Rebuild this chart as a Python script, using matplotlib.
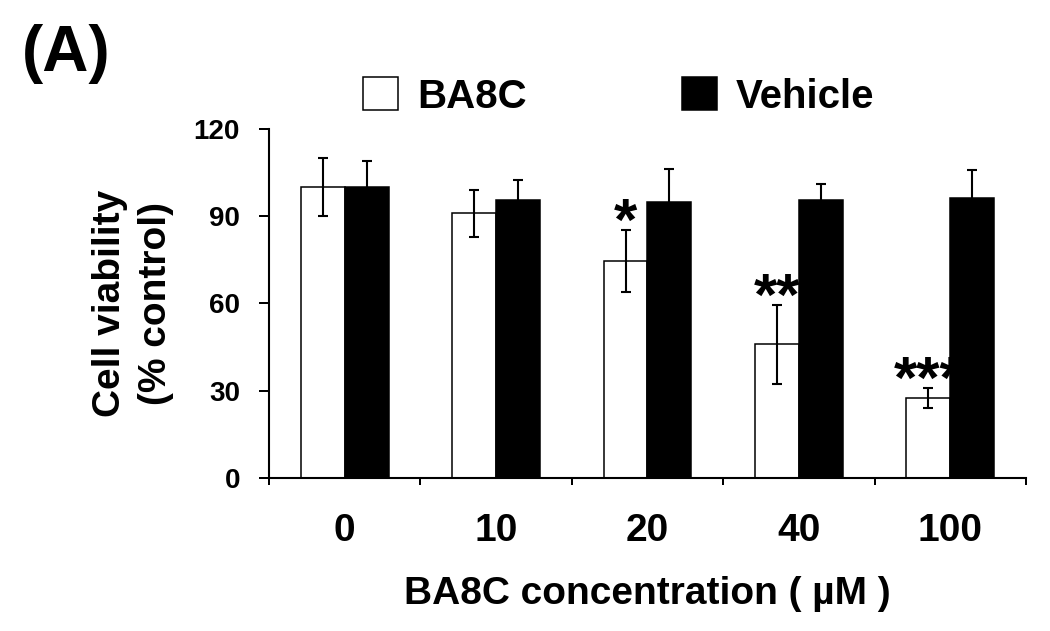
import matplotlib.pyplot as plt
import numpy as np

plt.rcParams['font.family'] = ['Liberation Sans', 'DejaVu Sans']
plt.rcParams['font.weight'] = 'bold'
plt.rcParams['axes.labelweight'] = 'bold'

# data
concentrations = ['0', '10', '20', '40', '100']
ba8c_mean = [100, 91, 74.5, 46, 27.5]
ba8c_err = [10, 8, 10.7, 13.6, 3.4]
vehicle_mean = [100, 95.5, 95, 95.5, 96.3]
vehicle_err = [9, 7, 11.3, 5.5, 9.7]
stars = ['', '', '*', '**', '***']

x = np.arange(len(concentrations))
w = 0.29

fig = plt.figure(figsize=(10.5, 6.31), dpi=100)
ax = fig.add_axes([0.2562, 0.2425, 0.7209, 0.5531])

err_style = dict(ecolor='black', elinewidth=1.5, capsize=3.6, capthick=1.5)
ax.bar(x - w / 2, ba8c_mean, w, yerr=ba8c_err, color='white', edgecolor='black',
       linewidth=1.1, error_kw=err_style, label='BA8C')
ax.bar(x + w / 2, vehicle_mean, w, yerr=vehicle_err, color='black', edgecolor='black',
       linewidth=1.1, error_kw=err_style, label='Vehicle')

# significance marks above BA8C bars
for i, s in enumerate(stars):
    if s:
        ax.text(x[i] - w / 2, ba8c_mean[i] + ba8c_err[i] - 3.5, s,
                ha='center', va='baseline', fontsize=43)

ax.set_xlim(-0.5, 4.5)
ax.set_ylim(0, 120)
ax.set_yticks([0, 30, 60, 90, 120])
ax.set_xticks(x)
ax.set_xticklabels(concentrations, fontsize=28)
ax.set_xticks(np.arange(-0.5, 5, 1), minor=True)
ax.tick_params(axis='x', which='major', length=0, pad=25)
ax.tick_params(axis='x', which='minor', length=5, width=1.44, direction='out')
ax.tick_params(axis='y', length=7.2, width=1.44, pad=13.7, labelsize=20)

for side in ['top', 'right']:
    ax.spines[side].set_visible(False)
for side in ['left', 'bottom']:
    ax.spines[side].set_linewidth(1.5)

ax.set_xlabel('BA8C concentration ( µM )', fontsize=28, fontweight='bold', labelpad=20)
ax.set_ylabel('Cell viability\n(% control)', fontsize=28, fontweight='bold',
              labelpad=14, linespacing=1.35)

ax.legend(ncol=2, loc='center left', bbox_to_anchor=(363 / 1050, 1 - 96.5 / 631),
          bbox_transform=fig.transFigure, frameon=False, fontsize=29,
          handlelength=0.87, handleheight=0.87, handletextpad=0.47,
          columnspacing=3.85, borderpad=0, borderaxespad=0)

fig.text(22 / 1050, 1 - 24 / 631, '(A)', fontsize=46, ha='left', va='top')

fig.savefig('out.png', dpi=100)
